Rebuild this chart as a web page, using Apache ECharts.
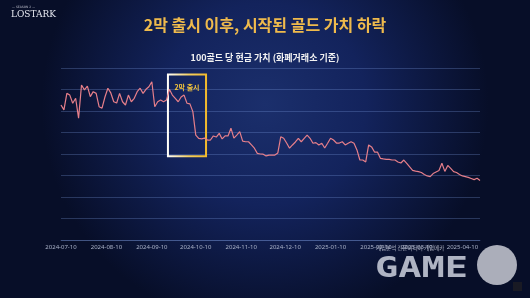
<!DOCTYPE html>
<html>
<head>
<meta charset="utf-8">
<script src="https://cdn.jsdelivr.net/npm/echarts@6/dist/echarts.min.js"></script>
<style>
html,body{margin:0;padding:0;background:#0b1433;}
#c{width:530px;height:298px;}
</style>
</head>
<body>
<div id="c"></div>
<script>
const dates = [
'2024-07-10','2024-07-12','2024-07-14','2024-07-16','2024-07-18','2024-07-20','2024-07-22','2024-07-24','2024-07-26','2024-07-28','2024-07-30',
'2024-08-01','2024-08-03','2024-08-05','2024-08-07','2024-08-09','2024-08-11','2024-08-13','2024-08-15','2024-08-17','2024-08-19','2024-08-21','2024-08-23','2024-08-25','2024-08-27','2024-08-29','2024-08-31',
'2024-09-02','2024-09-04','2024-09-06','2024-09-08','2024-09-10','2024-09-12','2024-09-14','2024-09-16','2024-09-18','2024-09-20','2024-09-22','2024-09-24','2024-09-26','2024-09-28','2024-09-30',
'2024-10-02','2024-10-04','2024-10-06','2024-10-08','2024-10-10','2024-10-12','2024-10-14','2024-10-16','2024-10-18','2024-10-20','2024-10-22','2024-10-24','2024-10-26','2024-10-28','2024-10-30',
'2024-11-01','2024-11-03','2024-11-05','2024-11-07','2024-11-09','2024-11-11','2024-11-13','2024-11-15','2024-11-17','2024-11-19','2024-11-21','2024-11-23','2024-11-25','2024-11-27','2024-11-29',
'2024-12-01','2024-12-03','2024-12-05','2024-12-07','2024-12-09','2024-12-11','2024-12-13','2024-12-15','2024-12-17','2024-12-19','2024-12-21','2024-12-23','2024-12-25','2024-12-27','2024-12-29','2024-12-31',
'2025-01-02','2025-01-04','2025-01-06','2025-01-08','2025-01-10','2025-01-12','2025-01-14','2025-01-16','2025-01-18','2025-01-20','2025-01-22','2025-01-24','2025-01-26','2025-01-28','2025-01-30',
'2025-02-01','2025-02-03','2025-02-05','2025-02-07','2025-02-09','2025-02-11','2025-02-13','2025-02-15','2025-02-17','2025-02-19','2025-02-21','2025-02-23','2025-02-25','2025-02-27',
'2025-03-01','2025-03-03','2025-03-05','2025-03-07','2025-03-09','2025-03-11','2025-03-13','2025-03-15','2025-03-17','2025-03-19','2025-03-21','2025-03-23','2025-03-25','2025-03-27','2025-03-29','2025-03-31',
'2025-04-02','2025-04-04','2025-04-06','2025-04-08','2025-04-10','2025-04-12','2025-04-14','2025-04-16','2025-04-18','2025-04-20','2025-04-22'
];
const values = [
62.8,60.5,68.2,67.4,63.6,65.9,56.7,72.1,69.8,71.6,
66.7,69.0,68.2,62.0,61.3,66.5,70.6,68.4,64.3,63.7,
68.2,64.3,62.8,67.4,64.3,65.9,69.0,70.6,68.2,70.1,
71.3,73.6,62.0,64.3,65.1,64.3,65.1,70.1,67.4,65.9,
64.3,66.5,67.4,63.6,63.3,59.7,48.8,47.3,47.0,47.4,
46.5,46.5,48.4,47.9,49.6,47.0,48.4,48.4,52.0,47.4,
48.8,50.4,46.0,45.7,45.7,44.2,42.7,40.3,40.0,39.9,
39.1,39.5,39.5,39.5,40.5,48.0,47.3,45.1,42.7,44.2,
45.6,47.3,45.7,47.3,48.8,47.3,45.0,45.3,44.2,45.0,
42.8,45.0,47.3,46.5,45.1,45.1,45.7,44.2,45.0,45.7,
45.0,41.9,37.2,37.2,36.3,44.2,43.3,40.9,40.9,38.0,
37.7,37.5,37.5,37.2,37.2,36.3,35.8,37.2,35.6,34.0,
32.4,32.0,31.8,31.4,30.5,29.8,29.5,30.9,31.6,32.3,
35.7,31.9,34.7,33.3,31.8,31.4,30.5,29.8,29.5,29.1,
28.6,28.1,28.7,27.7
];
const tickLabels = ['2024-07-10','2024-08-10','2024-09-10','2024-10-10','2024-11-10','2024-12-10','2025-01-10','2025-02-10','2025-03-10','2025-04-10'];
const axisRange = ['2024-07-10','2025-04-22'];
const releaseWindow = {start:'2024-09-21', end:'2024-10-17', low:39, high:77, label:'2막 출시'};
const titleText = '2막 출시 이후, 시작된 골드 가치 하락';
const subtitleText = '100골드 당 현금 가치 (화폐거래소 기준)';

const chart = echarts.init(document.getElementById('c'), null, {renderer:'canvas'});
const font = '"Noto Sans CJK KR","Noto Sans",sans-serif';
const tickTimes = tickLabels.map(s => echarts.time.parse(s).getTime());

chart.setOption({
  animation:false,
  backgroundColor: new echarts.graphic.RadialGradient(0.5, 0.35, 0.75, [
    {offset:0, color:'#1b2f6c'},
    {offset:0.45, color:'#13235c'},
    {offset:1, color:'#070e28'}
  ]),
  title:[
    {text:titleText, left:'center', top:12,
     textStyle:{fontFamily:font, fontSize:16, fontWeight:'bold', color:'#efba4c'}},
    {text:subtitleText, left:'center', top:48,
     textStyle:{fontFamily:font, fontSize:9, fontWeight:'bold', color:'#f2f2f2'}}
  ],
  grid:{left:61, right:50, top:68, bottom:58},
  xAxis:{
    type:'time',
    min:axisRange[0], max:axisRange[1],
    axisLine:{show:true, lineStyle:{color:'rgba(130,160,230,0.28)', width:1}},
    axisTick:{show:false},
    splitLine:{show:false},
    axisLabel:{
      customValues:tickTimes,
      formatter:'{yyyy}-{MM}-{dd}',
      color:'#aab2c8', fontSize:6, margin:4, fontFamily:'"Noto Sans",sans-serif',
      hideOverlap:false
    }
  },
  yAxis:{
    type:'value', min:0, max:80, interval:10,
    axisLine:{show:false}, axisTick:{show:false}, axisLabel:{show:false},
    splitLine:{lineStyle:{color:'rgba(130,160,230,0.28)', width:1}}
  },
  series:[{
    type:'line',
    data:dates.map((d,i)=>[d, values[i]]),
    showSymbol:false,
    smooth:false,
    lineStyle:{color:'#e67f8a', width:1.2},
    markArea:{
      silent:true,
      itemStyle:{
        color:'rgba(0,0,0,0)',
        borderWidth:2,
        borderColor:new echarts.graphic.LinearGradient(0,0,1,0,[
          {offset:0, color:'#ffffff'},
          {offset:0.55, color:'#f5d060'},
          {offset:1, color:'#f2b92a'}
        ])
      },
      label:{show:true, position:'insideTop', distance:10, color:'#f4c53c',
        fontSize:7, fontWeight:'bold', fontFamily:font},
      data:[[
        {name:releaseWindow.label, xAxis:releaseWindow.start, yAxis:releaseWindow.high},
        {xAxis:releaseWindow.end, yAxis:releaseWindow.low}
      ]]
    }
  }],
  graphic:[
    {type:'text', left:12, top:6, style:{text:'— SEASON 2 —', fill:'rgba(230,230,240,0.75)', font:'3px "DejaVu Sans"'}},
    {type:'text', left:11, top:10, style:{text:'LOSTARK', fill:'#e6e8f0', font:'9px "DejaVu Serif",serif'}},
    {type:'text', left:376, top:245, style:{text:'게임분석 전문미디어 게임메카', fill:'rgba(210,214,226,0.8)', font:'5.5px "Noto Sans CJK KR"'}},
    {type:'text', x:375, y:256, scaleX:1.38, style:{text:'GAME', fill:'rgba(205,209,222,0.85)', font:'bold 28px "DejaVu Sans Mono",monospace'}},
    {type:'circle', shape:{cx:497, cy:265, r:20}, style:{fill:'rgba(200,202,212,0.85)'}},
    {type:'rect', shape:{x:513, y:282, width:9, height:9}, style:{fill:'rgba(30,30,35,0.8)'}}
  ]
});
</script>
</body>
</html>
